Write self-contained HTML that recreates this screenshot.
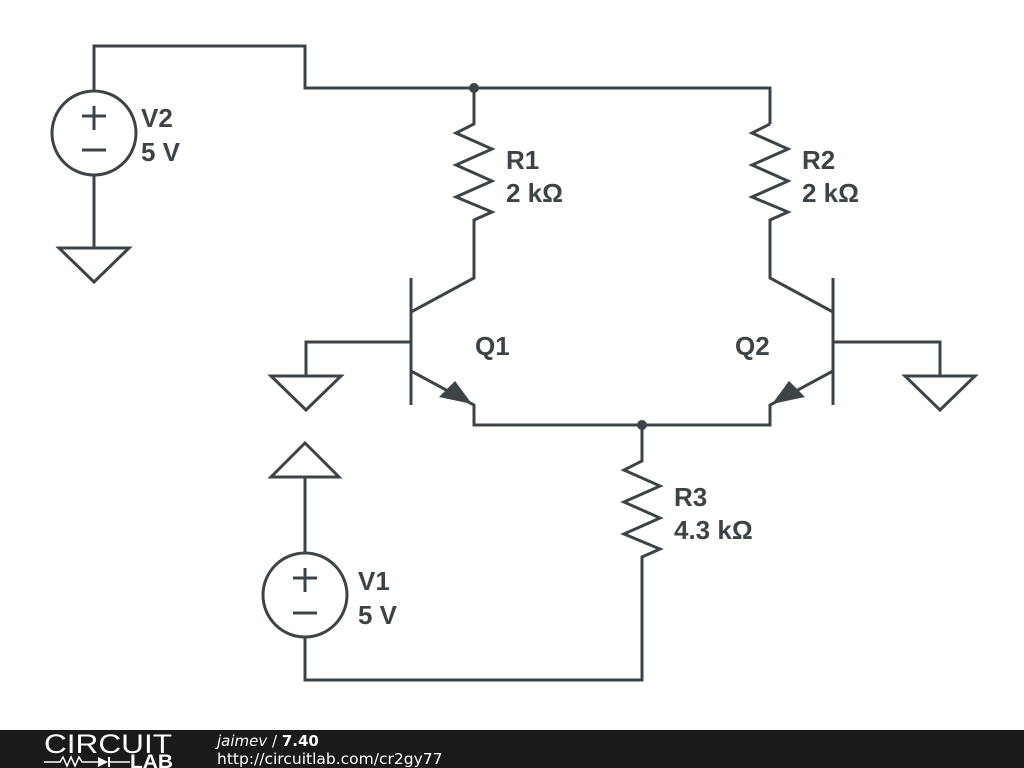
<!DOCTYPE html>
<html><head><style>
body{margin:0;width:1024px;height:768px;background:#fff;overflow:hidden;font-family:"Liberation Sans",sans-serif}
svg{position:absolute;left:0;top:0}
</style></head><body>
<svg width="1024" height="768" viewBox="0 0 1024 768">
<g fill="none" stroke="#3d4448" stroke-width="3" stroke-linejoin="miter">
<polyline points="94,91 94,46 305,46 305,88 770,88 770,124"/>
<circle cx="94" cy="133" r="42"/>
<line x1="94" y1="106" x2="94" y2="130"/><line x1="82" y1="116" x2="106" y2="116"/>
<line x1="82" y1="150" x2="106" y2="150"/>
<line x1="94" y1="175" x2="94" y2="248"/>
<polygon points="59,248 129,248 94,282"/>
<polyline points="474,88 474,124 456,133 492,149 456,165 492,181 456,197 492,212 474,220 474,278 411,312"/>
<polyline points="770,124 752,133 788,149 752,165 788,181 752,197 788,212 770,220 770,278 833,312"/>
<line x1="411" y1="278" x2="411" y2="405"/>
<polyline points="306,376 306,342 411,342"/>
<polygon points="271,376 341,376 306,410"/>
<polyline points="411,371 474,405 474,425 770,425 770,405 833,371"/>
<line x1="833" y1="278" x2="833" y2="405"/>
<polyline points="833,342 940,342 940,376"/>
<polygon points="905,376 975,376 940,410"/>
<polyline points="642,425 642,461 624,470 660,486 624,502 660,518 624,534 660,549 642,557 642,680 305,680 305,637"/>
<circle cx="305" cy="595" r="42"/>
<line x1="305" y1="568" x2="305" y2="592"/><line x1="293" y1="578" x2="317" y2="578"/>
<line x1="293" y1="613" x2="317" y2="613"/>
<line x1="305" y1="553" x2="305" y2="477"/>
<polygon points="271,477 339,477 305,443"/>
</g>
<g fill="#3d4448">
<polygon points="472,404 439,397 455,381"/>
<polygon points="772,404 805,397 789,381"/>
<circle cx="474" cy="88" r="5"/>
<circle cx="642" cy="425" r="5"/>
</g>
<g fill="#3d4448" font-weight="bold" font-size="26" font-family="Liberation Sans,sans-serif">
<text x="141" y="127">V2</text><text x="141" y="161">5 V</text>
<text x="506" y="169">R1</text><text x="506" y="202">2 kΩ</text>
<text x="802" y="169">R2</text><text x="802" y="202">2 kΩ</text>
<text x="475" y="355">Q1</text><text x="735" y="355">Q2</text>
<text x="674" y="506">R3</text><text x="674" y="539">4.3 kΩ</text>
<text x="358" y="590">V1</text><text x="358" y="624">5 V</text>
</g>
<rect x="0" y="730" width="1024" height="38" fill="#1a1a1a"/>
<text x="44" y="753" fill="#fff" font-size="27" font-family="Liberation Sans,sans-serif" textLength="128" lengthAdjust="spacingAndGlyphs">CIRCUIT</text>
<polyline points="44,762 60,762 63,757 67,766 71,757 75,766 79,757 82,762 98,762" fill="none" stroke="#fff" stroke-width="1.5"/>
<polygon points="98,757 98,767 108,762" fill="#fff"/>
<line x1="109" y1="757" x2="109" y2="767" stroke="#fff" stroke-width="2"/>
<line x1="109" y1="762" x2="130" y2="762" stroke="#fff" stroke-width="1.5"/>
<text x="130" y="768" fill="#fff" font-size="19" font-weight="bold" font-family="Liberation Sans,sans-serif" textLength="43" lengthAdjust="spacingAndGlyphs">LAB</text>
<text x="217" y="746" fill="#fff" font-size="15" font-family="DejaVu Sans,sans-serif"><tspan font-style="italic">jaimev</tspan> / <tspan font-weight="bold">7.40</tspan></text>
<text x="217" y="764" fill="#fff" font-size="15.5" font-family="DejaVu Sans,sans-serif">http://circuitlab.com/cr2gy77</text>
</svg>
</body></html>
